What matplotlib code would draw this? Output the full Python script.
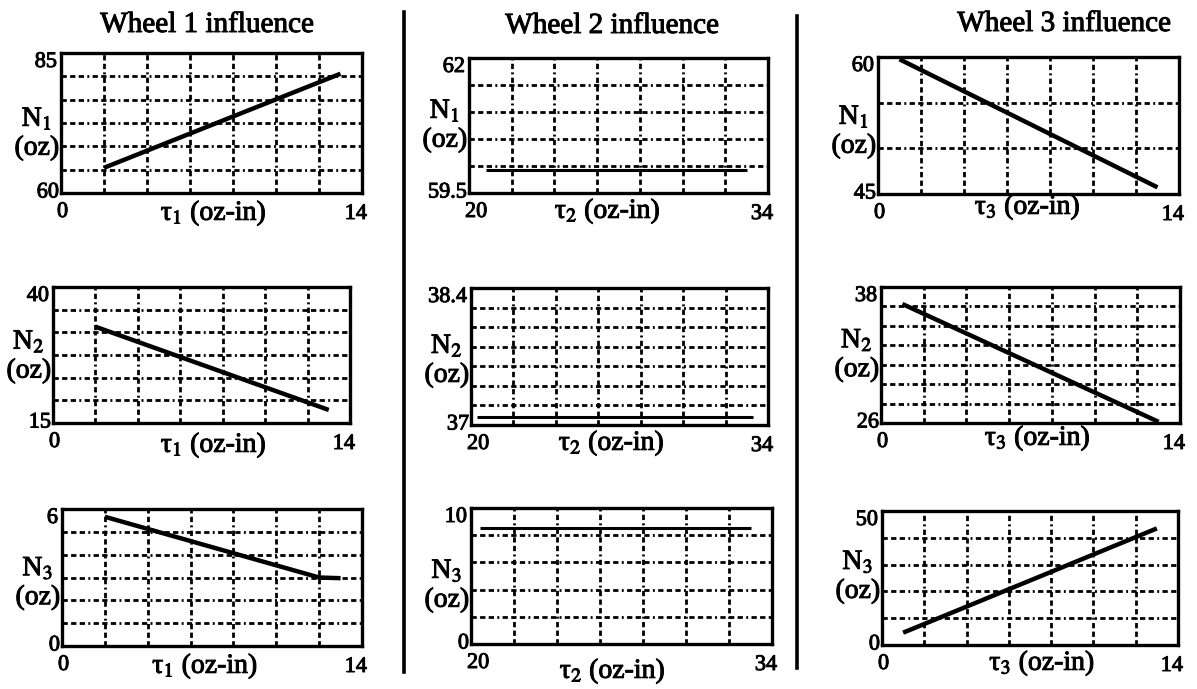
import numpy as np
import matplotlib
matplotlib.use("Agg")
import matplotlib.pyplot as plt
import matplotlib.patheffects as pe
from matplotlib.lines import Line2D
from matplotlib.transforms import offset_copy

plt.rcParams['font.family'] = ['Liberation Serif', 'DejaVu Serif']
plt.rcParams['mathtext.fontset'] = 'stix'
plt.rcParams['lines.scale_dashes'] = False

# ---- data -------------------------------------------------------------
wheel_titles = ["Wheel 1 influence", "Wheel 2 influence", "Wheel 3 influence"]
torque_labels = ["τ$_1$ (oz-in)", "τ$_2$ (oz-in)", "τ$_3$ (oz-in)"]
force_labels = ["N$_1$\n(oz)", "N$_2$\n(oz)", "N$_3$\n(oz)"]

tau1_range = [0, 14]
tau2_range = [20, 34]
tau3_range = [0, 14]

tau1 = [2, 13]
tau1_n3 = [2, 12, 13]
wheel1_N1 = [64.5, 81.3]
wheel1_N2 = [32.7, 17.4]
wheel1_N3 = [5.66, 3.0, 2.97]

tau2_n1 = [20.8, 33.0]
tau2_n2 = [20.3, 33.3]
tau2_n3 = [20.4, 33.0]
wheel2_N1 = [59.92, 59.92]
wheel2_N2 = [37.08, 37.08]
wheel2_N3 = [8.5, 8.5]

tau3 = [1, 13]
wheel3_N1 = [59.75, 45.73]
wheel3_N2 = [36.5, 26.1]
wheel3_N3 = [4.6, 43.5]

wheel1_ylims = [[60, 85], [15, 40], [0, 6]]
wheel2_ylims = [[59.5, 62], [37, 38.4], [0, 10]]
wheel3_ylims = [[45, 60], [26, 38], [0, 50]]

# number of grid intervals along y for each plot (per wheel, per force)
wheel1_ygrids = [6, 6, 6]
wheel2_ygrids = [5, 7, 5]
wheel3_ygrids = [3, 7, 5]
x_grids = 7

# ---- layout -----------------------------------------------------------
W, H = 1197, 689
fig = plt.figure(figsize=(W / 100, H / 100), dpi=100)
fig.patch.set_facecolor("white")

# plot boxes in pixels: (left, right, top, bottom)
boxes = [
    [(61, 362, 53, 193), (53, 350, 287, 423), (62, 362, 509, 646)],
    [(469, 768, 58, 193), (471, 768, 288, 425), (471, 772, 508, 644)],
    [(878, 1179, 57, 194), (881, 1180, 287, 423), (882, 1178, 511, 645)],
]
ylabel_frac = [[0.425, 0.49, 0.46], [0.50, 0.47, 0.43], [0.456, 0.50, 0.51]]
xlabel_dx = [[2, 12, -7], [-11, -8, -9], [-1, 7, 12]]
xlabel_dy = [[27, 29, 27], [25, 25, 34], [20, 22, 25]]
title_pos = [(207, 32), (612, 33), (1064, 31)]

xs = [[tau1, tau1, tau1_n3], [tau2_n1, tau2_n2, tau2_n3], [tau3, tau3, tau3]]
ys = [[wheel1_N1, wheel1_N2, wheel1_N3],
      [wheel2_N1, wheel2_N2, wheel2_N3],
      [wheel3_N1, wheel3_N2, wheel3_N3]]
xlims = [tau1_range, tau2_range, tau3_range]
ylims = [wheel1_ylims, wheel2_ylims, wheel3_ylims]
ygrids = [wheel1_ygrids, wheel2_ygrids, wheel3_ygrids]
line_widths = [3.2, 2.2, 3.2]

grid_dash = (0, (3.8, 2.4, 3.8, 2.4, 3.8, 2.4, 1.4, 2.4))
ink = [pe.withStroke(linewidth=0.7, foreground='black')]


def fmt(v):
    return "{:g}".format(v)


def ptext(ax, fx, fy, dx, dy, s, **kw):
    tr = offset_copy(ax.transAxes, fig=fig, x=dx, y=dy, units='dots')
    ax.text(fx, fy, s, transform=tr, clip_on=False, path_effects=ink, **kw)


for w in range(3):
    tx, ty = title_pos[w]
    fig.text(tx / W, 1 - ty / H, wheel_titles[w], ha='center', va='baseline',
             fontsize=21, path_effects=ink)
    for k in range(3):
        l, r, t, b = boxes[w][k]
        ax = fig.add_axes([l / W, 1 - b / H, (r - l) / W, (b - t) / H])
        x0, x1 = xlims[w]
        y0, y1 = ylims[w][k]
        ax.set_xlim(x0, x1)
        ax.set_ylim(y0, y1)
        ax.set_xticks(np.linspace(x0, x1, x_grids + 1)[1:-1])
        ax.set_yticks(np.linspace(y0, y1, ygrids[w][k] + 1)[1:-1])
        ax.tick_params(length=0, labelbottom=False, labelleft=False)
        ax.grid(True, color='black', linewidth=2.0, linestyle=grid_dash)
        for sp in ax.spines.values():
            sp.set_linewidth(2.4)
            sp.set_color('black')
        ax.plot(xs[w][k], ys[w][k], color='black', linewidth=line_widths[w],
                solid_capstyle='butt', zorder=3)

        # limit labels at the corners
        ptext(ax, 0, 1, -4, 0, fmt(y1), ha='right', va='top', fontsize=16)
        ptext(ax, 0, 0, -2, 0, fmt(y0), ha='right', va='center', fontsize=16)
        ptext(ax, 0, 0, -4, -10, fmt(x0), ha='left', va='top', fontsize=16)
        ptext(ax, 1, 0, 5, -12, fmt(x1), ha='right', va='top', fontsize=16)

        # axis titles
        ptext(ax, 0.5, 0, xlabel_dx[w][k], -xlabel_dy[w][k], torque_labels[w],
              ha='center', va='baseline', fontsize=20)
        ptext(ax, 0, ylabel_frac[w][k], -2, 0, force_labels[k],
              ha='right', va='center', multialignment='center',
              linespacing=1.2, fontsize=20)

# column separators
for x, yt, yb in [(404, 12, 672), (797, 16, 668)]:
    fig.add_artist(Line2D([x / W, x / W], [1 - yt / H, 1 - yb / H],
                          transform=fig.transFigure, color='black', linewidth=2.6))

fig.savefig("out.png", dpi=100, facecolor="white")
